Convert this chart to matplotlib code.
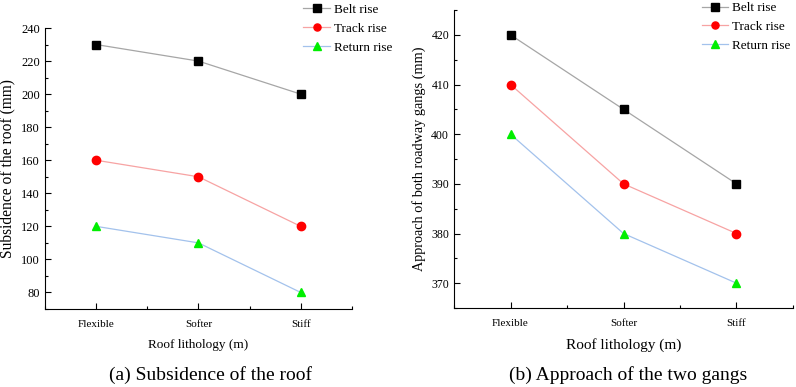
import numpy as np
import matplotlib
matplotlib.use("Agg")
import matplotlib.pyplot as plt
from matplotlib.ticker import MultipleLocator

# Datos
categorias = ["Flexible", "Softer", "Stiff"]
series = ["Belt rise", "Track rise", "Return rise"]
hundimiento = [
    [230, 220, 200],   # Belt rise
    [160, 150, 120],   # Track rise
    [120, 110, 80],    # Return rise
]
aproximacion = [
    [420, 405, 390],
    [410, 390, 380],
    [400, 380, 370],
]

# Estilos de cada serie
colores_linea = ["#a6a6a6", "#f7a3a3", "#a3c2ec"]
colores_marca = ["black", "#ff0000", "#00ee00"]
marcas = ["s", "o", "^"]

plt.rcParams["font.family"] = ["Liberation Serif", "DejaVu Serif"]

fig = plt.figure(figsize=(7.96, 3.87), dpi=100)
ax1 = fig.add_axes([0.0565, 0.2016, 0.3855, 0.726])
ax2 = fig.add_axes([0.5704, 0.2041, 0.4258, 0.770])

x = np.arange(len(categorias))


def dibujar(ax, datos, ylabel, caption, cap_x, ylim, mayor, menor, leg_anchor, tam_y, tam_lbl, tam_ylbl):
    for i, nombre in enumerate(series):
        ax.plot(x, datos[i], color=colores_linea[i], lw=0.9,
                marker=marcas[i], markersize=6,
                markerfacecolor=colores_marca[i], markeredgecolor=colores_marca[i],
                label=nombre)
    ax.set_xlim(-0.5, 2.5)
    ax.set_ylim(*ylim)
    ax.set_xticks(x)
    ax.set_xticklabels(categorias, fontsize=8)
    ax.xaxis.set_minor_locator(MultipleLocator(0.5))
    ax.yaxis.set_major_locator(MultipleLocator(mayor))
    ax.yaxis.set_minor_locator(MultipleLocator(menor))
    ax.tick_params(axis="both", which="major", direction="in", length=4, width=0.8)
    ax.tick_params(axis="y", which="major", labelsize=tam_y)
    ax.tick_params(axis="both", which="minor", direction="in", length=2.5, width=0.8)
    ax.tick_params(axis="x", pad=8)
    ax.spines["top"].set_visible(False)
    ax.spines["right"].set_visible(False)
    ax.set_ylabel(ylabel, fontsize=tam_ylbl)
    ax.set_xlabel("Roof lithology (m)", fontsize=tam_lbl, labelpad=7)
    ax.legend(loc="upper left", bbox_to_anchor=leg_anchor, frameon=False, fontsize=9.5,
              handlelength=2.0, handletextpad=0.3, labelspacing=0.5, borderaxespad=0,
              markerscale=0.85)
    # pie de figura debajo de cada panel
    fig.text(cap_x, 0.03, caption, ha="center", va="center", fontsize=14)


dibujar(ax1, hundimiento, "Subsidence of the roof (mm)", "(a) Subsidence of the roof", 0.265,
        (70, 240), 20, 10, (0.825, 1.105), 9, 9.5, 11.2)
dibujar(ax2, aproximacion, "Approach of both roadway gangs (mm)", "(b) Approach of the two gangs", 0.789,
        (365, 425), 10, 5, (0.715, 1.045), 8.5, 11, 10.3)

fig.savefig("out.png", dpi=100)
